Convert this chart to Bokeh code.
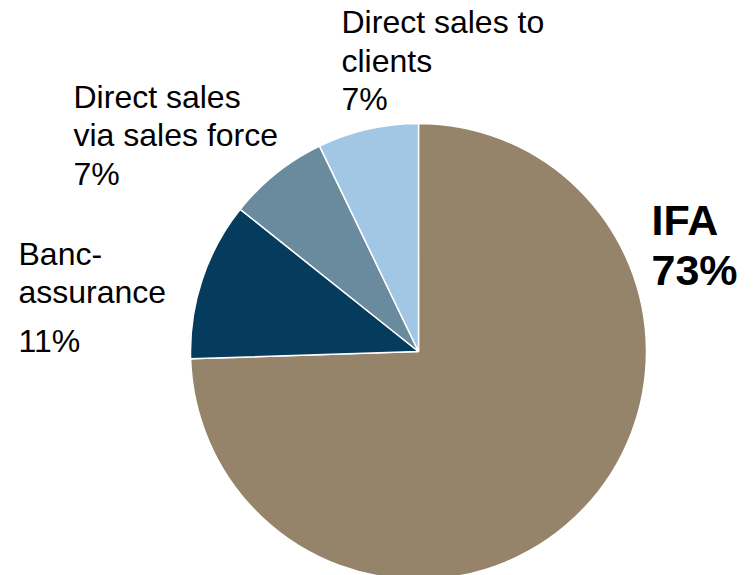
import math
from bokeh.plotting import figure
from bokeh.models import Range1d, ColumnDataSource
from bokeh.core.properties import value
from bokeh.embed import file_html
from bokeh.resources import INLINE

# ---- data ----
categories = ["IFA", "Banc-assurance", "Direct sales via sales force", "Direct sales to clients"]
shares = [73, 11, 7, 7]
label_lines = [["IFA"], ["Banc-", "assurance"], ["Direct sales", "via sales force"], ["Direct sales to", "clients"]]
colors = ["#96846a", "#053b5c", "#6a8a9e", "#a2c7e5"]

# ---- layout (picture-pixel based) ----
W, H = 737, 575
cx, cy, R = 418, H - 351, 228
label_x = [651, 18, 73, 341]
label_baselines = [[219, 269], [253, 291, 340], [96, 134, 173], [21, 60, 98]]

p = figure(width=W, height=H, output_backend="svg", toolbar_location=None,
           x_range=Range1d(0, W), y_range=Range1d(0, H), min_border=0)
p.axis.visible = False
p.grid.visible = False
p.outline_line_color = None
p.background_fill_color = "white"

total = sum(shares)
starts, ends = [], []
cum = 0.0
for s in shares:
    a0 = math.pi / 2 - 2 * math.pi * cum / total
    cum += s
    a1 = math.pi / 2 - 2 * math.pi * cum / total
    starts.append(a0)
    ends.append(a1)

src = ColumnDataSource(dict(x=[cx] * len(shares), y=[cy] * len(shares),
                            start=starts, end=ends, color=colors, cat=categories))
p.wedge(x="x", y="y", radius=R, start_angle="start", end_angle="end",
        direction="clock", fill_color="color", line_color="white", line_width=1.5,
        source=src)

for i, lines in enumerate(label_lines):
    texts = lines + [f"{shares[i]}%"]
    bold = (i == 0)
    for t, by in zip(texts, label_baselines[i]):
        p.text(x=[label_x[i]], y=[H - by], text=[t],
               text_font=value("Liberation Sans"),
               text_font_size="43px" if bold else "32px",
               text_font_style="bold" if bold else "normal",
               text_color="black", text_baseline="alphabetic", text_align="left")

open("out.html", "w").write(file_html(p, INLINE))
